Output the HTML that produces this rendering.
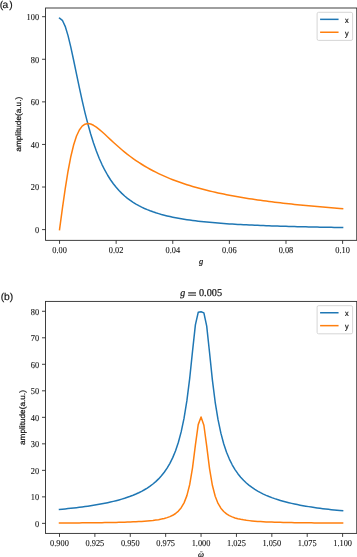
<!DOCTYPE html>
<html><head><meta charset="utf-8"><style>html,body{margin:0;padding:0;background:#fff;overflow:hidden;}
svg{display:block;will-change:transform;}
text{text-rendering:geometricPrecision;fill:#111;stroke:#111;stroke-width:0.2px;}
.t{font-family:"Liberation Serif",serif;font-size:9.1px;stroke-width:0.1px;}
.l{font-family:"Liberation Sans",sans-serif;font-size:8px;}
.yl{font-family:"Liberation Sans",sans-serif;font-size:7.8px;stroke-width:0.22px;}
.m{font-family:"Liberation Serif",serif;font-style:italic;font-size:8.5px;}
.ti{font-family:"Liberation Serif",serif;font-size:10.5px;}
.p{font-family:"Liberation Sans",sans-serif;font-size:10.05px;stroke-width:0.15px;}</style></head><body>
<svg width="357" height="557" viewBox="0 0 357 557">
<rect width="357" height="557" fill="#fff"/>
<clipPath id="ca"><rect x="45.55" y="8.0" width="311.20" height="232.35"/></clipPath>
<g clip-path="url(#ca)">
<polyline points="59.54,18.19 62.37,20.28 65.20,26.32 68.03,35.65 70.86,47.35 73.69,60.47 76.52,74.15 79.35,87.71 82.18,100.69 85.02,112.80 87.85,123.90 90.68,133.94 93.51,142.96 96.34,151.01 99.17,158.18 102.00,164.55 104.83,170.22 107.66,175.25 110.49,179.74 113.32,183.74 116.15,187.32 118.98,190.52 121.81,193.40 124.64,195.99 127.47,198.33 130.31,200.44 133.14,202.36 135.97,204.10 138.80,205.68 141.63,207.13 144.46,208.46 147.29,209.67 150.12,210.79 152.95,211.82 155.78,212.77 158.61,213.64 161.44,214.46 164.27,215.21 167.10,215.91 169.93,216.56 172.76,217.16 175.59,217.73 178.43,218.26 181.26,218.75 184.09,219.22 186.92,219.65 189.75,220.06 192.58,220.44 195.41,220.81 198.24,221.15 201.07,221.47 203.90,221.77 206.73,222.06 209.56,222.33 212.39,222.59 215.22,222.83 218.05,223.07 220.88,223.29 223.71,223.50 226.55,223.70 229.38,223.89 232.21,224.07 235.04,224.24 237.87,224.40 240.70,224.56 243.53,224.71 246.36,224.86 249.19,224.99 252.02,225.12 254.85,225.25 257.68,225.37 260.51,225.49 263.34,225.60 266.17,225.71 269.00,225.81 271.83,225.91 274.67,226.00 277.50,226.09 280.33,226.18 283.16,226.27 285.99,226.35 288.82,226.43 291.65,226.50 294.48,226.58 297.31,226.65 300.14,226.71 302.97,226.78 305.80,226.84 308.63,226.90 311.46,226.96 314.29,227.02 317.12,227.08 319.96,227.13 322.79,227.18 325.62,227.23 328.45,227.28 331.28,227.33 334.11,227.38 336.94,227.42 339.77,227.46 342.60,227.51" fill="none" stroke="#1f77b4" stroke-width="1.5" stroke-linejoin="round" stroke-linecap="square"/>
<polyline points="59.54,229.60 62.37,208.61 65.20,188.82 68.03,171.24 70.86,156.48 73.69,144.78 76.52,136.05 79.35,129.98 82.18,126.16 85.02,124.16 87.85,123.58 90.68,124.06 93.51,125.31 96.34,127.12 99.17,129.31 102.00,131.73 104.83,134.30 107.66,136.93 110.49,139.58 113.32,142.20 116.15,144.78 118.98,147.29 121.81,149.72 124.64,152.06 127.47,154.32 130.31,156.48 133.14,158.55 135.97,160.54 138.80,162.44 141.63,164.25 144.46,165.99 147.29,167.64 150.12,169.23 152.95,170.75 155.78,172.20 158.61,173.59 161.44,174.92 164.27,176.19 167.10,177.41 169.93,178.58 172.76,179.71 175.59,180.78 178.43,181.82 181.26,182.82 184.09,183.77 186.92,184.70 189.75,185.58 192.58,186.44 195.41,187.26 198.24,188.06 201.07,188.82 203.90,189.56 206.73,190.28 209.56,190.97 212.39,191.63 215.22,192.28 218.05,192.90 220.88,193.51 223.71,194.10 226.55,194.66 229.38,195.21 232.21,195.75 235.04,196.27 237.87,196.77 240.70,197.26 243.53,197.73 246.36,198.19 249.19,198.64 252.02,199.08 254.85,199.50 257.68,199.91 260.51,200.31 263.34,200.71 266.17,201.09 269.00,201.46 271.83,201.82 274.67,202.17 277.50,202.52 280.33,202.85 283.16,203.18 285.99,203.50 288.82,203.81 291.65,204.12 294.48,204.42 297.31,204.71 300.14,204.99 302.97,205.27 305.80,205.54 308.63,205.81 311.46,206.07 314.29,206.33 317.12,206.58 319.96,206.82 322.79,207.06 325.62,207.29 328.45,207.52 331.28,207.75 334.11,207.97 336.94,208.19 339.77,208.40 342.60,208.61" fill="none" stroke="#ff7f0e" stroke-width="1.5" stroke-linejoin="round" stroke-linecap="square"/>
</g>
<rect x="45.55" y="8.0" width="311.20" height="232.35" fill="none" stroke="#2b2b2b" stroke-width="0.9"/>
<text transform="translate(39.08 232.87) scale(0.918 1)" text-anchor="end" class="t">0</text>
<text transform="translate(39.08 190.29) scale(0.918 1)" text-anchor="end" class="t">20</text>
<text transform="translate(39.08 147.71) scale(0.918 1)" text-anchor="end" class="t">40</text>
<text transform="translate(39.08 105.13) scale(0.918 1)" text-anchor="end" class="t">60</text>
<text transform="translate(39.08 62.55) scale(0.918 1)" text-anchor="end" class="t">80</text>
<text transform="translate(39.08 19.97) scale(0.918 1)" text-anchor="end" class="t">100</text>
<text transform="translate(59.54 252.52) scale(0.918 1)" text-anchor="middle" class="t">0.00</text>
<text transform="translate(116.15 252.52) scale(0.918 1)" text-anchor="middle" class="t">0.02</text>
<text transform="translate(172.76 252.52) scale(0.918 1)" text-anchor="middle" class="t">0.04</text>
<text transform="translate(229.38 252.52) scale(0.918 1)" text-anchor="middle" class="t">0.06</text>
<text transform="translate(285.99 252.52) scale(0.918 1)" text-anchor="middle" class="t">0.08</text>
<text transform="translate(342.60 252.52) scale(0.918 1)" text-anchor="middle" class="t">0.10</text>
<path d="M42.05 229.60H45.55 M42.05 187.02H45.55 M42.05 144.44H45.55 M42.05 101.86H45.55 M42.05 59.28H45.55 M42.05 16.70H45.55 M59.54 240.35V243.85 M116.15 240.35V243.85 M172.76 240.35V243.85 M229.38 240.35V243.85 M285.99 240.35V243.85 M342.60 240.35V243.85" stroke="#2b2b2b" stroke-width="0.9"/>
<rect x="317.1" y="12.30" width="35.5" height="28.1" rx="1.5" fill="#fff" fill-opacity="0.8" stroke="#cccccc" stroke-width="0.8"/>
<path d="M320.85 19.35H337.8" stroke="#1f77b4" stroke-width="1.5" stroke-linecap="square"/>
<path d="M320.85 32.25H337.8" stroke="#ff7f0e" stroke-width="1.5" stroke-linecap="square"/>
<text transform="translate(345.0 22.50) scale(0.92 1)" class="l">x</text>
<text transform="translate(345.0 35.50) scale(0.92 1)" class="l">y</text>
<text transform="translate(20.95 124.25) rotate(-90) scale(1.055 1)" text-anchor="middle" class="yl">amplitude(a.u.)</text>
<clipPath id="cb"><rect x="45.5" y="301.4" width="311.25" height="232.00"/></clipPath>
<g clip-path="url(#cb)">
<polyline points="59.50,509.45 62.33,509.18 65.16,508.90 67.99,508.61 70.82,508.31 73.66,507.99 76.49,507.66 79.32,507.31 82.15,506.94 84.98,506.56 87.81,506.16 90.64,505.74 93.47,505.29 96.30,504.82 99.13,504.33 101.97,503.81 104.80,503.25 107.63,502.67 110.46,502.04 113.29,501.38 116.12,500.67 118.95,499.92 121.78,499.11 124.61,498.24 127.44,497.30 130.28,496.29 133.11,495.20 135.94,494.01 138.77,492.72 141.60,491.30 144.43,489.74 147.26,488.02 150.09,486.12 152.92,483.99 155.75,481.60 158.59,478.90 161.42,475.82 164.25,472.29 167.08,468.19 169.91,463.37 172.74,457.64 175.57,450.73 178.40,442.25 181.23,431.66 184.06,418.15 186.89,400.70 189.73,378.18 192.56,350.92 195.39,324.88 198.22,312.33 201.05,311.71 203.88,312.91 206.71,326.12 209.54,352.50 212.37,379.81 215.20,402.28 218.04,419.69 220.87,433.15 223.70,443.72 226.53,452.17 229.36,459.06 232.19,464.77 235.02,469.58 237.85,473.67 240.68,477.20 243.52,480.27 246.35,482.96 249.18,485.35 252.01,487.47 254.84,489.38 257.67,491.09 260.50,492.65 263.33,494.06 266.16,495.35 268.99,496.54 271.83,497.63 274.66,498.64 277.49,499.58 280.32,500.44 283.15,501.25 285.98,502.01 288.81,502.72 291.64,503.38 294.47,504.00 297.30,504.59 300.14,505.14 302.97,505.66 305.80,506.16 308.63,506.62 311.46,507.07 314.29,507.49 317.12,507.89 319.95,508.27 322.78,508.64 325.61,508.99 328.45,509.32 331.28,509.64 334.11,509.94 336.94,510.23 339.77,510.51 342.60,510.78" fill="none" stroke="#1f77b4" stroke-width="1.5" stroke-linejoin="round" stroke-linecap="square"/>
<polyline points="59.50,523.00 62.33,522.99 65.16,522.97 67.99,522.96 70.82,522.94 73.66,522.92 76.49,522.90 79.32,522.88 82.15,522.86 84.98,522.83 87.81,522.81 90.64,522.78 93.47,522.75 96.30,522.72 99.13,522.68 101.97,522.64 104.80,522.60 107.63,522.56 110.46,522.51 113.29,522.45 116.12,522.39 118.95,522.33 121.78,522.25 124.61,522.17 127.44,522.08 130.28,521.98 133.11,521.87 135.94,521.74 138.77,521.59 141.60,521.42 144.43,521.23 147.26,521.00 150.09,520.74 152.92,520.44 155.75,520.07 158.59,519.64 161.42,519.10 164.25,518.45 167.08,517.64 169.91,516.60 172.74,515.27 175.57,513.50 178.40,511.09 181.23,507.73 184.06,502.87 186.89,495.61 189.73,484.46 192.56,467.60 195.39,445.15 198.22,424.62 201.05,416.91 203.88,425.26 206.71,446.14 209.54,468.58 212.37,485.29 215.20,496.29 218.04,503.45 220.87,508.22 223.70,511.52 226.53,513.88 229.36,515.61 232.19,516.91 235.02,517.92 237.85,518.71 240.68,519.35 243.52,519.86 246.35,520.28 249.18,520.63 252.01,520.93 254.84,521.18 257.67,521.40 260.50,521.58 263.33,521.74 266.16,521.88 268.99,522.00 271.83,522.11 274.66,522.21 277.49,522.30 280.32,522.37 283.15,522.44 285.98,522.50 288.81,522.56 291.64,522.61 294.47,522.66 297.30,522.70 300.14,522.74 302.97,522.77 305.80,522.81 308.63,522.84 311.46,522.87 314.29,522.89 317.12,522.91 319.95,522.94 322.78,522.96 325.61,522.98 328.45,522.99 331.28,523.01 334.11,523.03 336.94,523.04 339.77,523.06 342.60,523.07" fill="none" stroke="#ff7f0e" stroke-width="1.5" stroke-linejoin="round" stroke-linecap="square"/>
</g>
<rect x="45.5" y="301.4" width="311.25" height="232.00" fill="none" stroke="#2b2b2b" stroke-width="0.9"/>
<text transform="translate(39.08 526.64) scale(0.918 1)" text-anchor="end" class="t">0</text>
<text transform="translate(39.08 500.13) scale(0.918 1)" text-anchor="end" class="t">10</text>
<text transform="translate(39.08 473.62) scale(0.918 1)" text-anchor="end" class="t">20</text>
<text transform="translate(39.08 447.11) scale(0.918 1)" text-anchor="end" class="t">30</text>
<text transform="translate(39.08 420.60) scale(0.918 1)" text-anchor="end" class="t">40</text>
<text transform="translate(39.08 394.09) scale(0.918 1)" text-anchor="end" class="t">50</text>
<text transform="translate(39.08 367.58) scale(0.918 1)" text-anchor="end" class="t">60</text>
<text transform="translate(39.08 341.07) scale(0.918 1)" text-anchor="end" class="t">70</text>
<text transform="translate(39.08 314.56) scale(0.918 1)" text-anchor="end" class="t">80</text>
<text transform="translate(59.50 546.07) scale(0.918 1)" text-anchor="middle" class="t">0.900</text>
<text transform="translate(94.89 546.07) scale(0.918 1)" text-anchor="middle" class="t">0.925</text>
<text transform="translate(130.28 546.07) scale(0.918 1)" text-anchor="middle" class="t">0.950</text>
<text transform="translate(165.66 546.07) scale(0.918 1)" text-anchor="middle" class="t">0.975</text>
<text transform="translate(201.05 546.07) scale(0.918 1)" text-anchor="middle" class="t">1.000</text>
<text transform="translate(236.44 546.07) scale(0.918 1)" text-anchor="middle" class="t">1.025</text>
<text transform="translate(271.83 546.07) scale(0.918 1)" text-anchor="middle" class="t">1.050</text>
<text transform="translate(307.21 546.07) scale(0.918 1)" text-anchor="middle" class="t">1.075</text>
<text transform="translate(342.60 546.07) scale(0.918 1)" text-anchor="middle" class="t">1.100</text>
<path d="M42.00 523.37H45.5 M42.00 496.86H45.5 M42.00 470.35H45.5 M42.00 443.84H45.5 M42.00 417.33H45.5 M42.00 390.82H45.5 M42.00 364.31H45.5 M42.00 337.80H45.5 M42.00 311.29H45.5 M59.50 533.4V536.9 M94.89 533.4V536.9 M130.28 533.4V536.9 M165.66 533.4V536.9 M201.05 533.4V536.9 M236.44 533.4V536.9 M271.83 533.4V536.9 M307.21 533.4V536.9 M342.60 533.4V536.9" stroke="#2b2b2b" stroke-width="0.9"/>
<rect x="317.1" y="305.70" width="35.5" height="28.1" rx="1.5" fill="#fff" fill-opacity="0.8" stroke="#cccccc" stroke-width="0.8"/>
<path d="M320.85 312.75H337.8" stroke="#1f77b4" stroke-width="1.5" stroke-linecap="square"/>
<path d="M320.85 325.65H337.8" stroke="#ff7f0e" stroke-width="1.5" stroke-linecap="square"/>
<text transform="translate(345.0 315.90) scale(0.92 1)" class="l">x</text>
<text transform="translate(345.0 328.90) scale(0.92 1)" class="l">y</text>
<text transform="translate(25.25 417.55) rotate(-90) scale(1.055 1)" text-anchor="middle" class="yl">amplitude(a.u.)</text>
<text transform="translate(201.05 263.85) scale(0.98 1)" text-anchor="middle" class="m">g</text>
<text transform="translate(180.25 296.2) scale(0.95 1)" class="ti" font-style="italic">g</text>
<text transform="translate(188.3 297.5) scale(1.55 1.14)" class="ti" dx="-0.5">=</text>
<text transform="translate(199.0 296.1) scale(0.975 1)" class="ti">0.005</text>
<text transform="translate(201.1 557.3)" text-anchor="middle" class="m">ω</text>
<path d="M200.1 551.8H202.6" stroke="#444" stroke-width="0.7" fill="none"/>
<text transform="translate(-0.17 7.64) scale(1.027 1)" class="p">(<tspan dx="-0.7">a</tspan><tspan dx="0.9">)</tspan></text>
<text transform="translate(0.63 300.14) scale(1.027 1)" class="p">(b)</text>
</svg>
</body></html>
